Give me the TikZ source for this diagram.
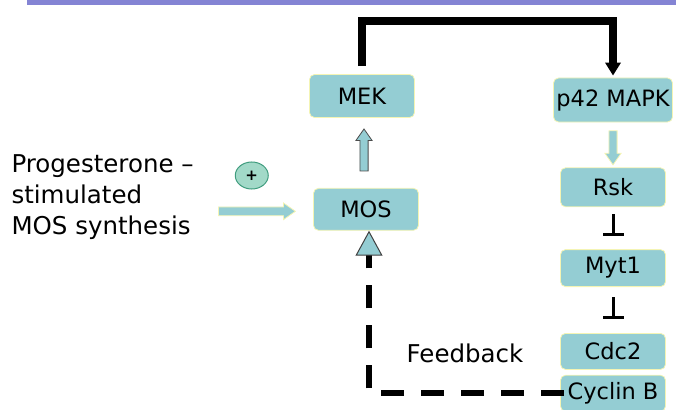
\documentclass[tikz,border=0pt]{standalone}
\usepackage{fontspec}
\setmainfont{DejaVu Sans}
\usetikzlibrary{positioning,calc,arrows.meta,shapes.arrows,shapes.geometric}
\definecolor{boxblue}{HTML}{94CDD3}
\definecolor{boxedge}{HTML}{F4F4B4}
\definecolor{plusfill}{HTML}{A2D9C8}
\definecolor{plusedge}{HTML}{3F9C7E}
\definecolor{rulecol}{HTML}{8484D4}

\begin{document}
\begin{tikzpicture}[x=1pt,y=-1pt,node distance=44pt,
    kinase/.style={draw=boxedge,fill=boxblue,line width=0.8pt,rounded corners=5pt,
                   minimum width=105pt,minimum height=38pt,inner xsep=2pt,
                   font=\fontsize{22.5}{26}\selectfont},
    fatarrow/.style={single arrow,fill=boxblue,inner sep=4pt,
                     single arrow head extend=4pt,single arrow tip angle=70,
                     line width=0.8pt},
    inhibit/.style={line width=3pt,-{Bar[width=21pt,line width=3pt]}},
    loopline/.style={line width=7.5pt,line join=miter,-{Triangle[width=15pt,length=13pt]}},
    feedline/.style={line width=6pt,dash pattern=on 23pt off 17pt,
                     -{Triangle[width=27pt,length=25pt,fill=boxblue,color=black!75,line width=1pt]}},
    label/.style={font=\fontsize{24.5}{31}\selectfont}]

  \useasboundingbox (0,0) rectangle (676,409);
  \draw[line width=5pt,rulecol] (27,2.5) -- (676,2.5);

  % left column
  \node[kinase,minimum height=43pt] (mek) at (362,96) {MEK};
  \node[kinase,minimum height=42pt] (mos) [below=70pt of mek,xshift=4pt] {MOS};

  % right column
  \node[kinase,minimum width=119pt,minimum height=44pt] (mapk) at (613,100) {p42 MAPK};
  \node[kinase,minimum height=39pt] (rsk) [below=45pt of mapk] {Rsk};
  \node[kinase,minimum height=37pt] (myt) [below=42pt of rsk] {Myt1};
  \node[kinase,minimum height=36pt] (cdc) [below=46pt of myt] {Cdc2};
  \node[kinase,minimum height=36pt] (cyc) [below=5pt of cdc] {Cyclin B};

  % stimulus
  \node[label,align=left,anchor=west] (prog) at (8,197)
       {Progesterone –\\stimulated\\MOS synthesis};
  \node[fatarrow,draw=boxedge,minimum height=77pt] (stim) [left=17pt of mos,yshift=-2pt] {};
  \node[ellipse,draw=plusedge,fill=plusfill,line width=1pt,minimum width=33pt,
        minimum height=27pt,inner sep=0pt,font=\bfseries\fontsize{15}{15}\selectfont] (plus)
       [above=17pt of stim,xshift=-2pt] {+};

  % arrows
  \node[fatarrow,draw=black!70,shape border rotate=90,minimum height=42pt,
        single arrow head extend=4pt,inner sep=3.7pt]
       (up) at ($(mos.north)!0.5!(mek.south)$) {};
  \node[fatarrow,draw=boxedge,shape border rotate=270,minimum height=34pt,
        inner sep=3.7pt]
       (down) at ($(mapk.south)!0.5!(rsk.north)$) {};
  \coordinate (top) at (0,21);
  \draw[loopline,shorten <=8pt,shorten >=2pt]
       (mek.north) -- (mek.north |- top) -- (mapk.north |- top) -- (mapk.north);
  \draw[inhibit,shorten <=7pt,shorten >=13pt] (rsk.south) -- (myt.north);
  \draw[inhibit,shorten <=10pt,shorten >=14pt] (myt.south) -- (cdc.north);

  % feedback
  \coordinate (corner) at ($(mos.south |- cyc.west)+(3,0)$);
  \draw[feedline] ([xshift=4pt]cyc.west) -- (corner) -- (corner |- mos.south);
  \node[label] (feedback) at (465,353) {Feedback};
\end{tikzpicture}
\end{document}
